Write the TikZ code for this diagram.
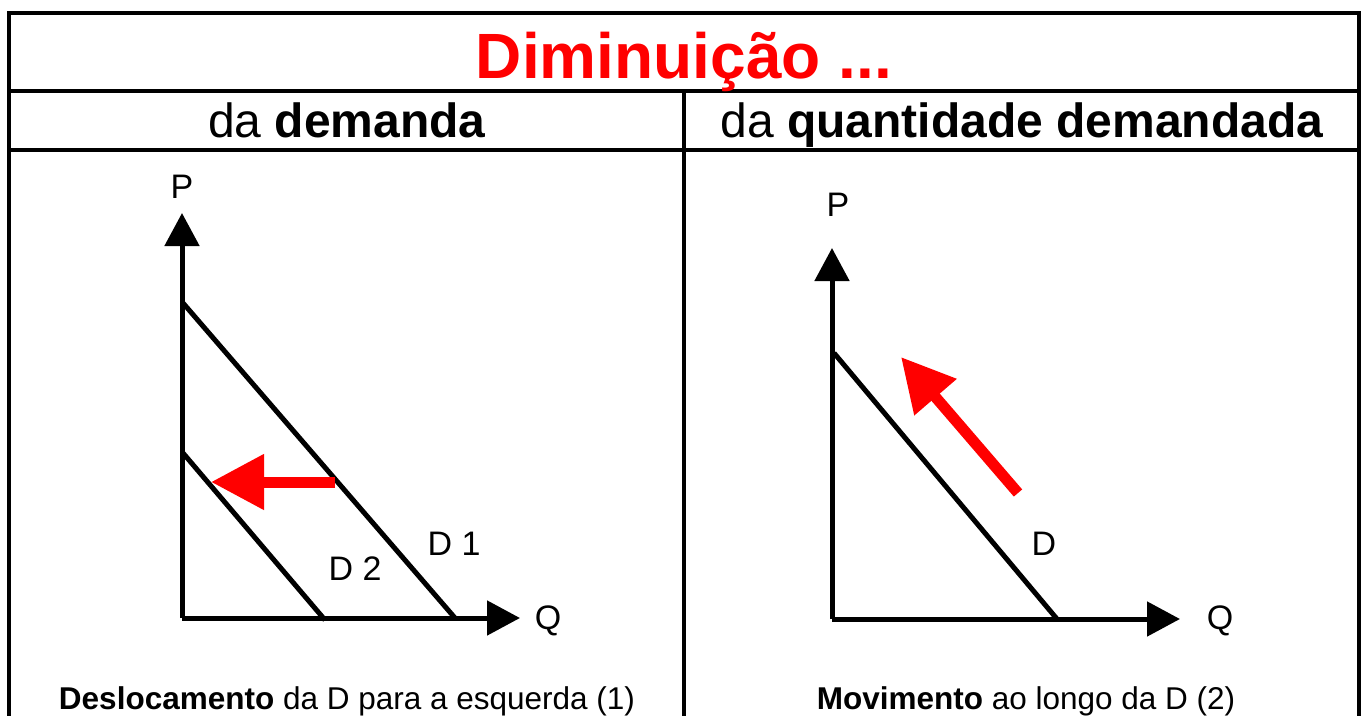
\documentclass[tikz,border=0pt]{standalone}
\usepackage{fontspec}
\setmainfont{Liberation Sans}
\usetikzlibrary{arrows.meta}
\definecolor{pptred}{RGB}{255,0,0}
\begin{document}
\begin{tikzpicture}[x=1pt,y=-1pt,
  frame/.style={line width=4pt,black},
  axis/.style={line width=5pt,black,-{Triangle[length=33pt,width=34pt]}},
  curve/.style={line width=5pt,black},
  redarrow/.style={line width=11pt,pptred,-{Triangle[length=53pt,width=53pt]}},
  lbl/.style={anchor=base,inner sep=0pt,font=\fontsize{34}{40}\selectfont},
  hdr/.style={anchor=base,inner sep=0pt,font=\fontsize{48}{56}\selectfont},
  foot/.style={anchor=base,inner sep=0pt,font=\fontsize{31.5}{38}\selectfont}]
\useasboundingbox (0,0) rectangle (1365,715);
\fill[white] (0,0) rectangle (1365,715);
% frame
\coordinate (TL) at (9,13);
\coordinate (TR) at (1359,13);
\coordinate (BL) at (9,716);
\coordinate (BR) at (1359,716);
\coordinate (H1L) at (9,91);
\coordinate (H1R) at (1359,91);
\coordinate (H2L) at (9,150);
\coordinate (H2R) at (1359,150);
\coordinate (DT) at (684,91);
\coordinate (DB) at (684,716);
\draw[frame] (BL) -- (TL) -- (TR) -- (BR);
\draw[frame] (H1L) -- (H1R);
\draw[frame] (H2L) -- (H2R);
\draw[frame] (DT) -- (DB);
% texts
\node[anchor=base,inner sep=0pt,text=pptred,font=\fontsize{64}{72}\selectfont\bfseries] (title) at (684,78) {Diminuição ...};
\node[hdr] (h1) at (347,137) {da \textbf{demanda}};
\node[hdr] (h2) at (1022,137) {da \textbf{quantidade demandada}};
\node[foot] (f1) at (347,709) {\textbf{Deslocamento} da D para a esquerda (1)};
\node[foot] (f2) at (1026,709) {\textbf{Movimento} ao longo da D (2)};
% left graph
\coordinate (O1) at (182,618);
\coordinate (P1) at (182,213);
\coordinate (Q1) at (520,618);
\draw[axis] (O1) -- (P1);
\draw[axis] (O1) -- (Q1);
\coordinate (D1a) at (183,303);
\coordinate (D1b) at (455,618);
\coordinate (D2a) at (183,453);
\coordinate (D2b) at (325,620);
\draw[curve] (D1a) -- (D1b);
\draw[curve] (D2a) -- (D2b);
\coordinate (A1s) at (335,482);
\coordinate (A1e) at (211,482);
\draw[redarrow] (A1s) -- (A1e);
\node[lbl] (lP1) at (182,198) {P};
\node[lbl] (lQ1) at (548,629) {Q};
\node[lbl] (lD1) at (454,555) {D 1};
\node[lbl] (lD2) at (355,580) {D 2};
% right graph
\coordinate (O2) at (832,619);
\coordinate (P2) at (832,248);
\coordinate (Q2) at (1180,619);
\draw[axis] (O2) -- (P2);
\draw[axis] (O2) -- (Q2);
\coordinate (Da) at (834,353);
\coordinate (Db) at (1057,619);
\draw[curve] (Da) -- (Db);
\coordinate (A2s) at (1018,493);
\coordinate (A2e) at (901,357);
\draw[redarrow] (A2s) -- (A2e);
\node[lbl] (lP2) at (838,216) {P};
\node[lbl] (lQ2) at (1220,629) {Q};
\node[lbl] (lD) at (1044,555) {D};
\end{tikzpicture}
\end{document}
